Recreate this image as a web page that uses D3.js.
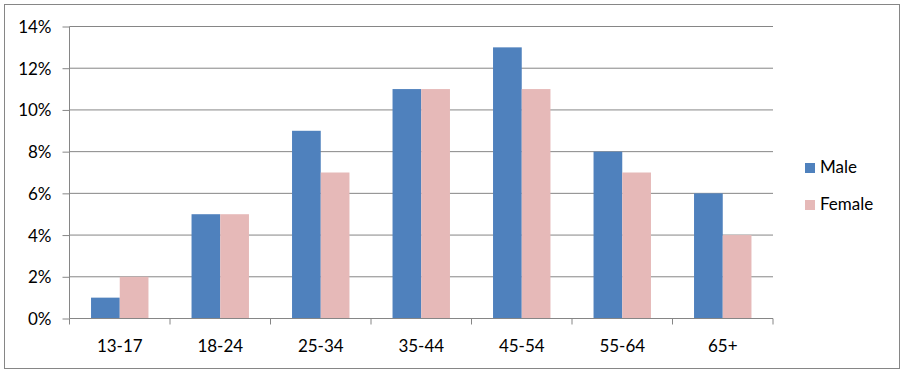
<!DOCTYPE html>
<html>
<head>
<meta charset="utf-8">
<script src="https://cdn.jsdelivr.net/npm/d3@7"></script>
<style>
  body { margin: 0; background: #fff; }
  svg text { font-family: Lato, "Open Sans", sans-serif; fill: #000; }
</style>
</head>
<body>
<svg></svg>
<script>
const categories = ['13-17', '18-24', '25-34', '35-44', '45-54', '55-64', '65+'];
const male = [1, 5, 9, 11, 13, 8, 6];
const female = [2, 5, 7, 11, 11, 7, 4];
const seriesNames = ['Male', 'Female'];
const yTicks = [0, 2, 4, 6, 8, 10, 12, 14];

const colors = ['#4f81bd', '#e6b9b8'];
const gridColor = '#868686';

const width = 906;
const height = 374;

const svg = d3.select('svg').attr('width', width).attr('height', height);

// outer chart border
svg.append('rect')
  .attr('x', 4.5).attr('y', 4.5)
  .attr('width', 895).attr('height', 364)
  .attr('fill', '#fff')
  .attr('stroke', gridColor);

const plotLeft = 69.5, plotRight = 773, plotTop = 26.5, plotBottom = 318.5;

const xScale = d3.scaleBand().domain(categories).range([plotLeft, plotRight]).paddingInner(0).paddingOuter(0);
const yScale = d3.scaleLinear().domain([0, 14]).range([plotBottom, plotTop]);

// gridlines
svg.append('g')
  .selectAll('line')
  .data(yTicks.filter(d => d > 0))
  .enter()
  .append('line')
  .attr('x1', plotLeft).attr('x2', plotRight)
  .attr('y1', d => yScale(d)).attr('y2', d => yScale(d))
  .attr('stroke', gridColor);

// bars
const groupWidth = xScale.bandwidth();
const barWidth = groupWidth / 3.5;
const inner = d3.scaleBand().domain(seriesNames).range([0, barWidth * 2]);

const rows = categories.map((c, i) => ({cat: c, values: [male[i], female[i]]}));

const groups = svg.append('g')
  .selectAll('g')
  .data(rows)
  .enter()
  .append('g')
  .attr('transform', d => 'translate(' + (xScale(d.cat) + (groupWidth - barWidth * 2) / 2) + ',0)');

groups.selectAll('rect')
  .data(d => d.values.map((v, j) => ({name: seriesNames[j], value: v, j: j})))
  .enter()
  .append('rect')
  .attr('x', d => inner(d.name))
  .attr('width', inner.bandwidth())
  .attr('y', d => yScale(d.value))
  .attr('height', d => yScale(0) - yScale(d.value))
  .attr('fill', d => colors[d.j]);

// y axis
const yAxis = svg.append('g')
  .attr('transform', 'translate(' + plotLeft + ',0)')
  .call(d3.axisLeft(yScale).tickValues(yTicks).tickFormat(d => d + '%').tickSize(7).tickPadding(11));
yAxis.selectAll('line, path').attr('stroke', gridColor);
yAxis.select('.domain').attr('d', 'M0,' + plotTop + 'V' + plotBottom);
yAxis.selectAll('text').style('font-size', '17px').attr('dy', '0.35em');

// x axis
const xAxis = svg.append('g')
  .attr('transform', 'translate(0,' + plotBottom + ')')
  .call(d3.axisBottom(xScale).tickSize(0).tickPadding(21));
xAxis.select('.domain').attr('stroke', gridColor).attr('d', 'M' + plotLeft + ',0H' + plotRight);
xAxis.selectAll('text').style('font-size', '17px');
xAxis.append('g')
  .selectAll('line')
  .data(d3.range(categories.length + 1))
  .enter()
  .append('line')
  .attr('x1', i => plotLeft + i * groupWidth).attr('x2', i => plotLeft + i * groupWidth)
  .attr('y1', 0).attr('y2', 6)
  .attr('stroke', gridColor);

// legend
const legend = svg.append('g')
  .selectAll('g')
  .data(seriesNames)
  .enter()
  .append('g')
  .attr('transform', (d, i) => 'translate(805,' + (163 + i * 37) + ')');
legend.append('rect')
  .attr('width', 10).attr('height', 10)
  .attr('fill', (d, i) => colors[i]);
legend.append('text')
  .attr('x', 15).attr('y', 10)
  .style('font-size', '17px')
  .text(d => d);
</script>
</body>
</html>
